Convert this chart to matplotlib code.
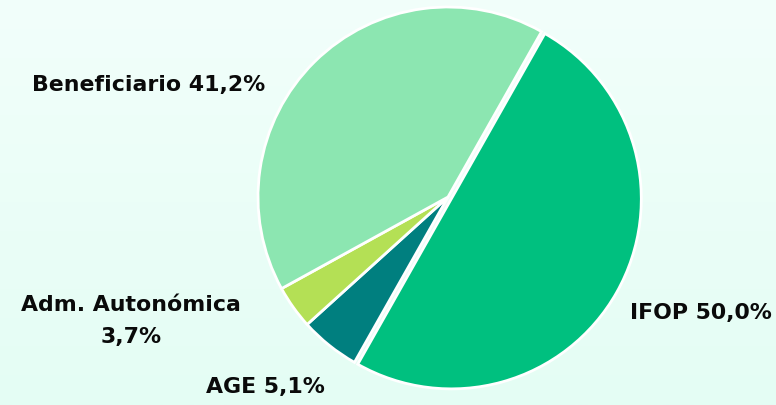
import matplotlib
matplotlib.use("Agg")
import matplotlib.pyplot as plt
import numpy as np
from matplotlib.colors import LinearSegmentedColormap

# data
labels = ["IFOP", "AGE", "Adm. Autonómica", "Beneficiario"]
pct_text = ["50,0%", "5,1%", "3,7%", "41,2%"]
values = [50.0, 5.1, 3.7, 41.2]
colors = ["#00c07f", "#007f7f", "#b4e055", "#8ce6b1"]
explode = [0.02, 0, 0, 0]

# label placement (data units, pie radius = 1)
label_pos = [(1.33, -0.605), (-0.96, -0.995), (-1.67, -0.645), (-1.575, 0.595)]
label_text = ["IFOP 50,0%", "AGE 5,1%", "Adm. Autonómica\n3,7%", "Beneficiario 41,2%"]

fig = plt.figure(figsize=(7.76, 4.06), dpi=100)

# light gradient background
bg = fig.add_axes([0, 0, 1, 1])
grad = np.linspace(0, 1, 256).reshape(-1, 1)
cmap = LinearSegmentedColormap.from_list("bg", ["#f2fffb", "#e4fdf4"])
bg.imshow(grad, aspect="auto", cmap=cmap, extent=[0, 1, 0, 1])
bg.axis("off")

ax = fig.add_axes([0, 0, 1, 1])
ax.patch.set_alpha(0)
wedges, _ = ax.pie(values, colors=colors, explode=explode, startangle=60.5,
                   counterclock=False,
                   wedgeprops=dict(edgecolor="white", linewidth=2))

for (x, y), t in zip(label_pos, label_text):
    ax.text(x, y, t, ha="center", va="center", fontsize=15.8,
            fontweight="bold", family="DejaVu Sans", color="#0a0a0a",
            linespacing=1.75)

ax.set_aspect("auto")
ax.set_xlim(-448 / 190, (776 - 448) / 190)
ax.set_ylim((198 - 406) / 190, 198 / 190)
ax.axis("off")

fig.savefig("out.png", dpi=100)
